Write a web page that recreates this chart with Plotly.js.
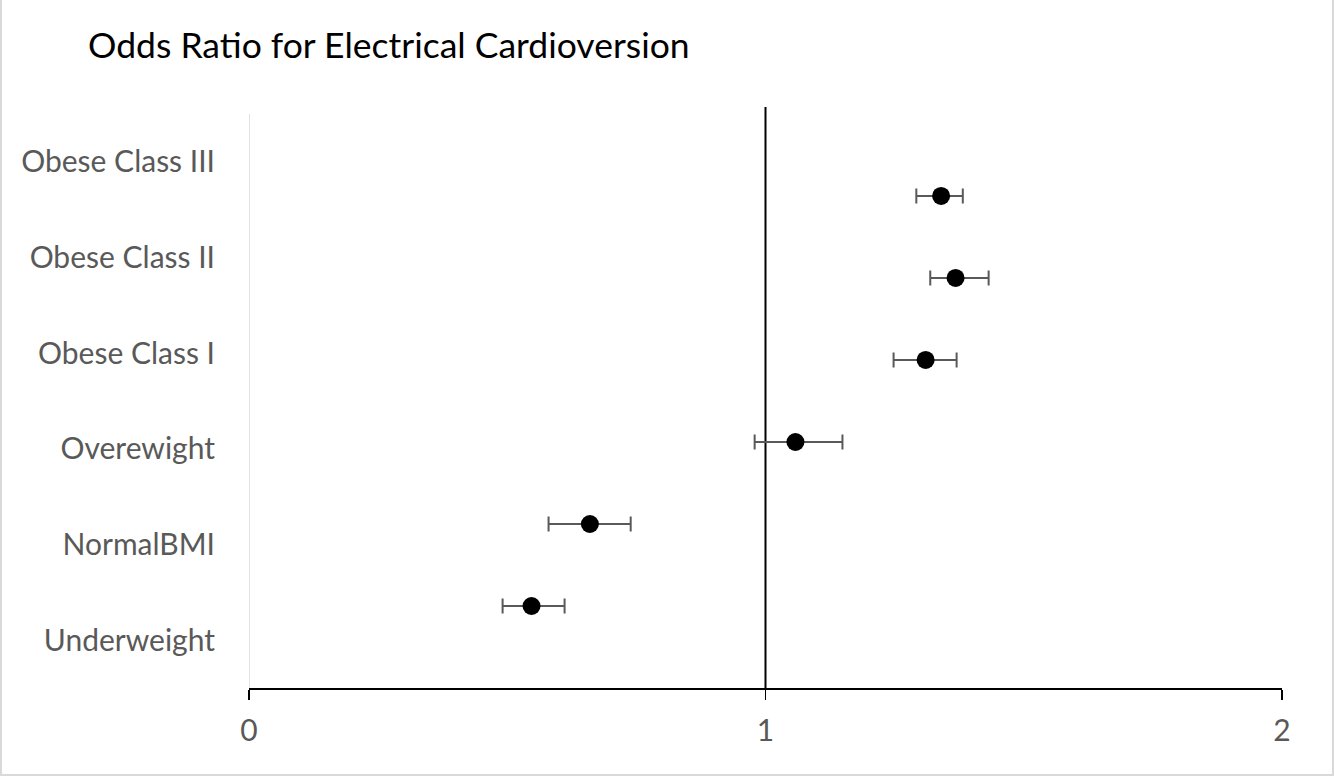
<!DOCTYPE html>
<html>
<head>
<meta charset="utf-8">
<script src="https://cdn.plot.ly/plotly-3.0.1.min.js"></script>
<style>
  html, body { margin: 0; padding: 0; background: #fff; }
  #wrap { position: relative; width: 1334px; height: 778px; }
  #chart { width: 1334px; height: 778px; }
  #frame { position: absolute; left: 0; top: 0; width: 1334px; height: 776px; box-sizing: border-box;
           border: 2px solid #d9d9d9; border-top: none; pointer-events: none; }
</style>
</head>
<body>
<div id="wrap"><div id="chart"></div><div id="frame"></div></div>
<script>
// Categories (bottom to top, as labelled on the left)
const categories = ["Underweight", "NormalBMI", "Overewight", "Obese Class I", "Obese Class II", "Obese Class III"];
// Point y positions (Excel-style scatter positions) for each group
const yPos = [1, 2, 3, 4, 5, 6];
// Odds ratios and confidence limits
const oddsRatio = [0.547, 0.660, 1.058, 1.310, 1.368, 1.340];
const ciLow     = [0.491, 0.580, 0.979, 1.248, 1.319, 1.292];
const ciHigh    = [0.611, 0.739, 1.149, 1.370, 1.432, 1.382];
// x-axis ticks
const xTicks = [0, 1, 2];

const errPlus = oddsRatio.map((v, i) => ciHigh[i] - v);
const errMinus = oddsRatio.map((v, i) => v - ciLow[i]);

const labelFont = { family: "Lato, 'Open Sans', sans-serif", size: 30, color: "#595959" };

const traces = [
  {
    type: "scatter",
    mode: "markers",
    x: oddsRatio,
    y: yPos,
    marker: { color: "#000000", size: 18, symbol: "circle" },
    error_x: {
      type: "data", symmetric: false,
      array: errPlus, arrayminus: errMinus,
      color: "#595959", thickness: 2, width: 7.5
    },
    showlegend: false,
    hoverinfo: "x"
  },
  {
    // invisible trace to carry the category labels axis
    type: "scatter",
    mode: "markers",
    x: categories.map(() => 0),
    y: categories,
    yaxis: "y2",
    marker: { opacity: 0 },
    showlegend: false,
    hoverinfo: "skip"
  }
];

const layout = {
  width: 1334,
  height: 778,
  margin: { l: 249, r: 52, t: 107, b: 90 },
  paper_bgcolor: "#ffffff",
  plot_bgcolor: "#ffffff",
  title: {
    text: "Odds Ratio for Electrical Cardioversion",
    font: { family: "Lato, 'Open Sans', sans-serif", size: 35.5, color: "#000000" },
    x: 88 / 1334, xanchor: "left", xref: "container",
    y: 1 - 46 / 778, yanchor: "middle", yref: "container"
  },
  xaxis: {
    range: [0, 2],
    tickvals: xTicks,
    ticktext: xTicks.map(String),
    showgrid: false,
    zeroline: false,
    showline: true,
    linecolor: "#000000",
    linewidth: 2,
    ticks: "outside",
    ticklen: 10,
    tickwidth: 1.5,
    tickcolor: "#000000",
    tickfont: labelFont,
    ticklabelstandoff: 5,
    fixedrange: true
  },
  yaxis: {
    range: [0, 7.085],
    showgrid: false,
    zeroline: false,
    showline: false,
    showticklabels: false,
    ticks: "",
    fixedrange: true
  },
  yaxis2: {
    overlaying: "y",
    side: "left",
    type: "category",
    categoryorder: "array",
    categoryarray: categories,
    range: [-0.5, 5.573],
    showgrid: false,
    zeroline: false,
    showline: false,
    ticks: "",
    tickfont: labelFont,
    ticklabelstandoff: 33,
    fixedrange: true
  },
  shapes: [
    { type: "line", xref: "x", yref: "y", x0: 0, x1: 0, y0: 0, y1: 7,
      line: { color: "#d9d9d9", width: 1.5 }, layer: "below" },
    { type: "line", xref: "x", yref: "paper", x0: 1, x1: 1, y0: 0, y1: 1,
      line: { color: "#000000", width: 2 }, layer: "below" }
  ],
  showlegend: false
};

Plotly.newPlot("chart", traces, layout, { displayModeBar: false, staticPlot: true });
</script>
</body>
</html>
